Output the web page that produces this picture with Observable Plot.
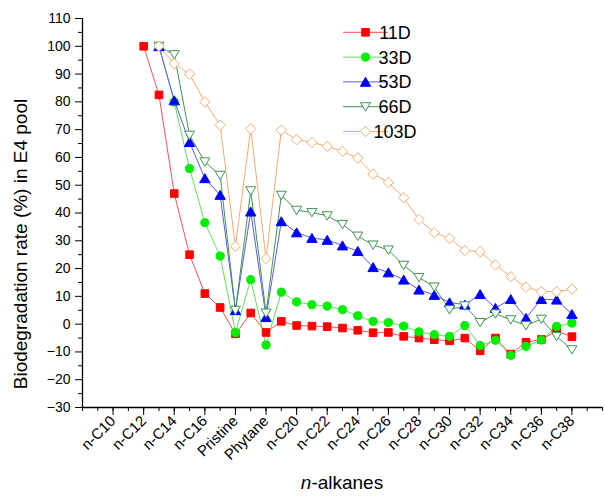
<!DOCTYPE html>
<html><head><meta charset="utf-8">
<script src="https://cdn.jsdelivr.net/npm/d3@7"></script>
<script src="https://cdn.jsdelivr.net/npm/@observablehq/plot@0.6"></script>
<style>body{margin:0;background:#fff}</style>
</head><body><div id="chart"></div>
<script>
const categories = ["n-C10","n-C11","n-C12","n-C13","n-C14","n-C15","n-C16","n-C17","Pristine","n-C18","Phytane",
  "n-C19","n-C20","n-C21","n-C22","n-C23","n-C24","n-C25","n-C26","n-C27","n-C28","n-C29","n-C30",
  "n-C31","n-C32","n-C33","n-C34","n-C35","n-C36","n-C37","n-C38"];
const seriesNames = ["11D","33D","53D","66D","103D"];
const d11 = [null,null,100,82.5,47,25,11,6,-3.5,4,-3,1,-0.5,-0.7,-0.9,-1.4,-2.2,-3.1,-3,-4.4,-5,-5.6,-6,-5,-9.6,-5,-10.8,-6.5,-5.5,-2.5,-4.5];
const d33 = [null,null,null,100,80,56,36.5,24.5,-3,16,-7.5,11.5,8,7,6.5,5.2,3,1,0.6,-0.7,-2.8,-3.8,-4.4,-0.5,-7.7,-5.8,-11.2,-8,-5.7,-0.8,0.4];
const d53 = [null,null,null,100,80.5,65.5,52.5,46.5,5,40.5,2.5,37,33,31,30.3,28.3,26.3,20.5,18.6,16,12.4,10.5,7.8,7,10.8,5.8,9,2.2,9,8.8,3.6];
const d66 = [null,null,null,100,97,68,58.4,53.6,5,48,4,46.4,41,40.2,39,35.9,31.7,28.5,26.7,21.2,16.8,13.4,5.2,6.6,0.6,3.7,1.6,-0.5,1.8,-4.4,-9.2];
const d103 = [null,null,null,100,93.7,90,80,71.6,28,70.3,23.6,69.8,66.4,65.4,64,62.2,59.8,54,51,45.5,37.7,32.9,30.9,26.5,26.1,21.3,17.1,13.3,11.7,11.7,12.6];
const yTicks = [-30,-20,-10,0,10,20,30,40,50,60,70,80,90,100,110];
const xTickIdx = [0,2,4,6,8,10,12,14,16,18,20,22,24,26,28,30];

// marker shapes (bbox centered)
const symSquare = {draw(c){const s=3.8;c.moveTo(-s,-s);c.lineTo(s,-s);c.lineTo(s,s);c.lineTo(-s,s);c.closePath();}};
const symCircle = {draw(c){const r=4.1;c.moveTo(r,0);c.arc(0,0,r,0,2*Math.PI);c.closePath();}};
const symTriUp = {draw(c){c.moveTo(0,-4.6);c.lineTo(5.2,4.4);c.lineTo(-5.2,4.4);c.closePath();}};
const symTriDown = {draw(c){c.moveTo(-5,-4);c.lineTo(5,-4);c.lineTo(0,4.4);c.closePath();}};
const symDiamond = {draw(c){const s=5.2;c.moveTo(0,-s);c.lineTo(s,0);c.lineTo(0,s);c.lineTo(-s,0);c.closePath();}};

const styles = [
  {data:d11, line:"#f25555", sym:symSquare, fill:"#ff0000", stroke:"#ff0000"},
  {data:d33, line:"#5fe05f", sym:symCircle, fill:"#00ee00", stroke:"#00ee00"},
  {data:d53, line:"#5a5af0", sym:symTriUp, fill:"#0000ff", stroke:"#0000ff"},
  {data:d66, line:"#3f9450", sym:symTriDown, fill:"#ffffff", stroke:"#3f9450"},
  {data:d103, line:"#f2ab6e", sym:symDiamond, fill:"#ffffff", stroke:"#f2ab6e"}
];

const seriesMarks = [];
styles.forEach((st, k) => {
  const rows = st.data.map((v, i) => ({i, v, s: seriesNames[k]})).filter(d => d.v !== null);
  seriesMarks.push(Plot.line(rows, {x:"i", y:"v", stroke:st.line, strokeWidth:1}));
});
styles.forEach((st, k) => {
  const rows = st.data.map((v, i) => ({i, v, s: seriesNames[k]})).filter(d => d.v !== null);
  seriesMarks.push(Plot.dot(rows, {x:"i", y:"v", symbol:st.sym, r:4, fill:st.fill, stroke:st.stroke, strokeWidth:1}));
});

const plot = Plot.plot({
  width:605, height:496,
  marginTop:18, marginLeft:82, marginRight:3, marginBottom:89,
  style:{fontFamily:"'Liberation Sans', Arial, sans-serif", fontSize:"13.5px", color:"#000", background:"#fff"},
  x:{type:"linear", domain:[-2,32]},
  y:{domain:[-30,110]},
  marks:[
    Plot.axisY({ticks:yTicks, tickSize:7, tickPadding:5, label:null, fontSize:14}),
    Plot.axisY({ticks:d3.range(-25,110,10), tickSize:4, tickFormat:()=>"", label:null}),
    Plot.axisX({ticks:xTickIdx, tickFormat:i=>categories[i], tickRotate:-45, tickSize:8, tickPadding:3, label:null, fontSize:15}),
    Plot.axisX({ticks:d3.range(-2,33,1), tickSize:4, tickFormat:()=>"", label:null}),
    Plot.ruleX([-2], {stroke:"#000", strokeWidth:1.3}),
    Plot.ruleY([-30], {stroke:"#000", strokeWidth:1.3}),
    ...seriesMarks
  ]
});

const svg = d3.select(plot);
// axis titles
svg.append("text").attr("transform","translate(27,244) rotate(-90)")
  .attr("text-anchor","middle").attr("font-size",19).attr("fill","#000")
  .text("Biodegradation rate (%) in E4 pool");
const xt = svg.append("text").attr("x",342).attr("y",489).attr("text-anchor","middle").attr("font-size",19).attr("fill","#000");
xt.append("tspan").attr("font-style","italic").text("n");
xt.append("tspan").text("-alkanes");
// legend
const lg = svg.append("g");
styles.forEach((st, k) => {
  const y = 32.3 + k*24.8;
  lg.append("line").attr("x1",343).attr("x2",388).attr("y1",y).attr("y2",y).attr("stroke",st.line).attr("stroke-width",1);
  lg.append("path").attr("d", d3.symbol(st.sym)()).attr("transform",`translate(365.5,${y})`)
    .attr("fill",st.fill).attr("stroke",st.stroke);
  lg.append("text").attr("x",395).attr("y",y).attr("dy","0.36em").attr("font-size",18).attr("fill","#000").text(seriesNames[k]);
});
document.getElementById("chart").appendChild(plot);
</script>
</body></html>
